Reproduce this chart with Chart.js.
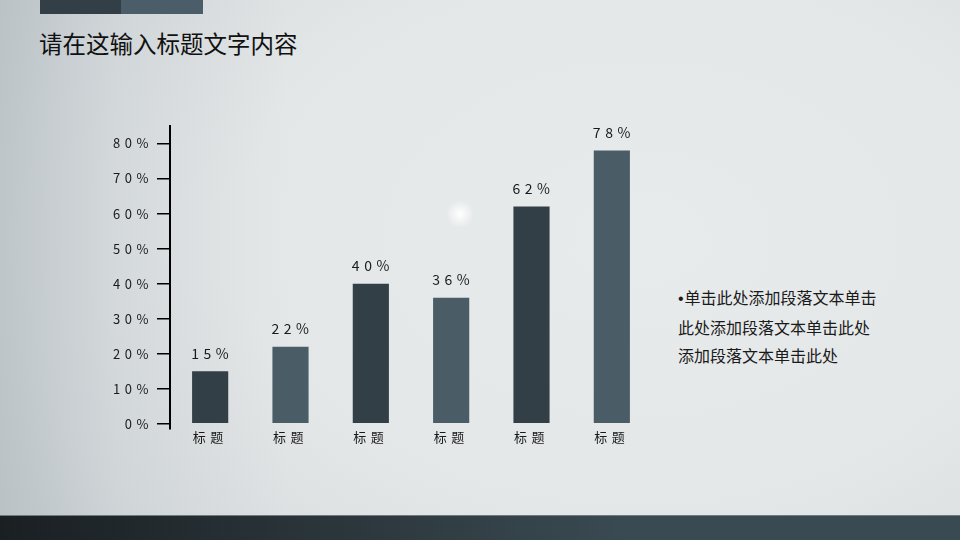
<!DOCTYPE html>
<html>
<head>
<meta charset="utf-8">
<script src="https://cdn.jsdelivr.net/npm/chart.js@4"></script>
<style>
    html, body { margin: 0; padding: 0; }
    body {
        width: 960px;
        height: 540px;
        position: relative;
        overflow: hidden;
        font-family: "Noto Sans CJK SC", sans-serif;
        background:
            linear-gradient(to right, rgba(170,180,185,0.55) 0%, rgba(190,198,202,0.3) 12%, rgba(220,224,226,0) 30%),
            radial-gradient(ellipse 900px 620px at 640px 240px, #e8ebec 0%, #e4e7e8 45%, #d8dcde 70%, #bfc6c9 100%);
    }
    .glow {
        position: absolute;
        left: 446px; top: 200px; width: 28px; height: 28px;
        background: radial-gradient(circle, rgba(255,255,255,1) 0%, rgba(255,255,255,0.7) 20%, rgba(255,255,255,0) 70%);
    }
    .topbar-a { position: absolute; left: 40px; top: 0; width: 81px; height: 14px; background: #333f47; }
    .topbar-b { position: absolute; left: 121px; top: 0; width: 82px; height: 14px; background: #4a5d68; }
    .bottombar {
        position: absolute; left: 0; top: 515px; width: 960px; height: 25px;
        background: linear-gradient(to right, #1a1f22 0%, #2b363b 35%, #3a4a52 65%, #3a4a52 100%);
        border-top: 1px solid #6f797e;
    }
    .title {
        position: absolute; left: 39px; top: 27px;
        font-size: 23.5px; color: #111; line-height: 32px; white-space: nowrap;
    }
    .note {
        position: absolute; left: 678px; top: 283px;
        font-size: 16px; color: #1a1a1a; line-height: 28px; white-space: nowrap;
    }
    .note .dot { font-family: "Liberation Sans", sans-serif; margin-right: 1px; }
    #wrap { position: absolute; left: 60px; top: 95px; width: 600px; height: 360px; }
</style>
</head>
<body>
<div class="topbar-a"></div>
<div class="topbar-b"></div>
<div class="title">请在这输入标题文字内容</div>
<div class="glow"></div>
<div class="note"><span class="dot">•</span>单击此处添加段落文本单击<br>此处添加段落文本单击此处<br>添加段落文本单击此处</div>
<div id="wrap"><canvas id="barChart"></canvas></div>
<div class="bottombar"></div>
<script>
// Chart data
const categories = ['标题', '标题', '标题', '标题', '标题', '标题'];
const values = [15, 22, 40, 36, 62, 78];
const yTicks = [0, 10, 20, 30, 40, 50, 60, 70, 80];
const barColors = ['#323f47', '#4a5d67', '#323f47', '#4a5d67', '#323f47', '#4a5d67'];

const fontFamily = '"Noto Sans CJK SC", sans-serif';

// letter spacing like the slide text
const spacingPlugin = {
    id: 'spacing',
    beforeDraw(chart) {
        chart.ctx.letterSpacing = '4.5px';
    }
};

// value labels above each bar
const valueLabels = {
    id: 'valueLabels',
    afterDatasetsDraw(chart) {
        const ctx = chart.ctx;
        const meta = chart.getDatasetMeta(0);
        ctx.save();
        ctx.letterSpacing = '4.5px';
        ctx.font = '14px ' + fontFamily;
        ctx.fillStyle = '#1a1a1a';
        ctx.textAlign = 'center';
        ctx.textBaseline = 'bottom';
        meta.data.forEach((bar, i) => {
            ctx.fillText(values[i] + '%', bar.x + 2, bar.y - 11);
        });
        ctx.restore();
    }
};

const ctx = document.getElementById('barChart').getContext('2d');
const barChart = new Chart(ctx, {
    type: 'bar',
    data: {
        labels: categories,
        datasets: [{
            data: values,
            backgroundColor: barColors,
            borderWidth: 0,
            barPercentage: 0.45,
            categoryPercentage: 1
        }]
    },
    options: {
        responsive: true,
        maintainAspectRatio: false,
        animation: false,
        layout: {
            padding: { top: 31, right: 8, bottom: 0, left: 0 }
        },
        plugins: {
            legend: { display: false },
            tooltip: { enabled: false }
        },
        scales: {
            y: {
                min: -1.5,
                max: 85,
                afterBuildTicks: scale => {
                    scale.ticks = yTicks.map(v => ({ value: v }));
                },
                afterFit: scale => { scale.width = 110; },
                ticks: {
                    padding: 4,
                    color: '#1a1a1a',
                    font: { size: 13, family: fontFamily },
                    callback: v => v + '%'
                },
                grid: {
                    drawOnChartArea: false,
                    drawTicks: true,
                    tickLength: 13,
                    color: '#000',
                    lineWidth: 1.5
                },
                border: {
                    display: true,
                    color: '#000',
                    width: 2
                }
            },
            x: {
                afterFit: scale => { scale.height = 26; },
                ticks: {
                    padding: 0,
                    color: '#1a1a1a',
                    font: { size: 13, family: fontFamily }
                },
                grid: { display: false, tickLength: 0 },
                border: { display: false }
            }
        }
    },
    plugins: [spacingPlugin, valueLabels]
});
</script>
</body>
</html>
